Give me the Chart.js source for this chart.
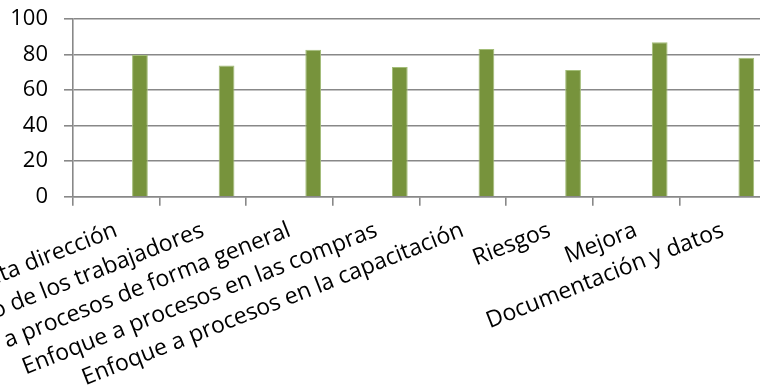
<!DOCTYPE html>
<html lang="es">
<head>
<meta charset="utf-8">
<title>Puntaje por criterio</title>
<script src="https://cdn.jsdelivr.net/npm/chart.js@4/dist/chart.umd.min.js"></script>
<style>
    html, body { margin: 0; padding: 0; background: #fff; overflow: hidden; }
    #wrap { width: 770px; height: 390px; }
</style>
</head>
<body>
<div id="wrap"><canvas id="chart"></canvas></div>
<script>
const categories = [
    'Alta dirección',
    'Compromiso de los trabajadores',
    'Enfoque a procesos de forma general',
    'Enfoque a procesos en las compras',
    'Enfoque a procesos en la capacitación',
    'Riesgos',
    'Mejora',
    'Documentación y datos',
];
const scores = [79.7, 73.9, 82.7, 73, 83.1, 71.3, 86.9, 78.2];
// the three earlier series of the group carry no values
const emptySeries = [];
const yTicks = [0, 20, 40, 60, 80, 100];

const gridColor = '#888888';
const barColor = '#77933c';
const fontFamily = '"Open Sans", sans-serif';

function seriesDataset(data) {
    return {
        data,
        backgroundColor: barColor,
        borderColor: '#a3bd78',
        borderWidth: 1,
        barPercentage: 1,
        categoryPercentage: 4 / 5.5,
    };
}

new Chart(document.getElementById('chart'), {
    type: 'bar',
    data: {
        labels: categories,
        datasets: [
            seriesDataset(emptySeries),
            seriesDataset(emptySeries),
            seriesDataset(emptySeries),
            seriesDataset(scores),
        ],
    },
    options: {
        responsive: true,
        maintainAspectRatio: false,
        animation: false,
        layout: { padding: { top: 19, right: 4, left: 0, bottom: 0 } },
        plugins: {
            legend: { display: false },
            tooltip: { enabled: false },
        },
        scales: {
            x: {
                grid: {
                    offset: true,
                    drawOnChartArea: false,
                    tickLength: 9,
                    color: gridColor,
                    lineWidth: 1.6,
                },
                border: { color: gridColor, width: 1.6 },
                ticks: {
                    color: '#000',
                    font: { family: fontFamily, size: 23 },
                    minRotation: 21.5,
                    maxRotation: 21.5,
                    autoSkip: false,
                    padding: 11,
                },
                afterFit: (scale) => {
                    scale.height = 193.3;
                    scale.paddingLeft = 0;
                    scale.paddingRight = 0;
                },
            },
            y: {
                min: 0,
                max: 100,
                afterBuildTicks: (scale) => {
                    scale.ticks = yTicks.map((value) => ({ value }));
                },
                grid: {
                    tickLength: 9,
                    color: gridColor,
                    lineWidth: 1.6,
                },
                border: { color: gridColor, width: 1.6 },
                ticks: {
                    color: '#000',
                    font: { family: fontFamily, size: 22 },
                    padding: 16,
                },
                afterFit: (scale) => {
                    scale.width = 73;
                    scale.paddingTop = 0;
                    scale.paddingBottom = 0;
                },
            },
        },
    },
});
</script>
</body>
</html>
